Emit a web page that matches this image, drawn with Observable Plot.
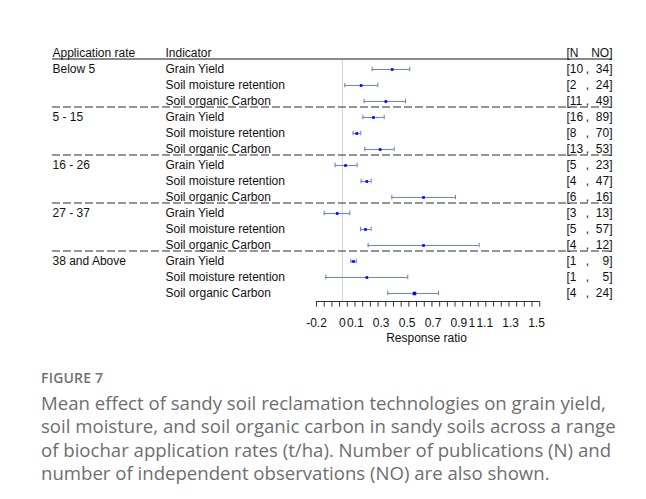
<!DOCTYPE html>
<html><head><meta charset="utf-8">
<script src="https://cdn.jsdelivr.net/npm/d3@7"></script>
<script src="https://cdn.jsdelivr.net/npm/@observablehq/plot@0.6"></script>
<style>
body{margin:0;background:#fff;width:646px;height:499px;overflow:hidden;position:relative}
#chart{position:absolute;left:0;top:0}
#fig{position:absolute;left:41px;top:368px;font:600 14px "Open Sans";color:#707070;letter-spacing:0.2px;white-space:nowrap}
#cap{position:absolute;left:41px;top:391px;font:400 18.6px/23.3px "Open Sans";color:#6e6e6e;white-space:nowrap}
</style></head><body>
<div id="chart"></div>
<div id="fig">FIGURE 7</div>
<div id="cap">Mean effect of sandy soil reclamation technologies on grain yield,<br>soil moisture, and soil organic carbon in sandy soils across a range<br>of biochar application rates (t/ha). Number of publications (N) and<br>number of independent observations (NO) are also shown.</div>
<script>
const rates = ["Below 5", "5 - 15", "16 - 26", "27 - 37", "38 and Above"];
const indicators = ["Grain Yield", "Soil moisture retention", "Soil organic Carbon"];
const mean  = [0.385, 0.145, 0.336, 0.24, 0.111, 0.292, 0.024, 0.189, 0.627, -0.04, 0.179, 0.627, 0.086, 0.189, 0.557];
const lower = [0.23, 0.019, 0.168, 0.158, 0.083, 0.173, -0.056, 0.145, 0.382, -0.141, 0.14, 0.199, 0.065, -0.128, 0.351];
const upper = [0.52, 0.274, 0.488, 0.323, 0.142, 0.40, 0.114, 0.222, 0.874, 0.057, 0.222, 1.057, 0.107, 0.505, 0.743];
const nPub  = [10, 2, 11, 16, 8, 13, 5, 4, 6, 3, 5, 4, 1, 1, 4];
const nObs  = [34, 24, 49, 89, 70, 53, 23, 47, 16, 13, 57, 12, 9, 5, 24];
const xTickLabels = [-0.2, 0, 0.1, 0.3, 0.5, 0.7, 0.9, 1, 1.1, 1.3, 1.5];
const headers = {rate: "Application rate", indicator: "Indicator", n: "[N", no: "NO]"};
const axisTitle = "Response ratio";

const rows = [];
rates.forEach((r, i) => indicators.forEach((ind, j) => {
  const k = i * 3 + j;
  rows.push({row: k, rate: j === 0 ? r : "", indicator: ind, mean: mean[k], lower: lower[k], upper: upper[k], n: nPub[k], no: nObs[k]});
}));
const groupEnds = rows.filter(d => d.row % 3 === 2 && d.row < 14);
const xMin = -0.2, xMax = 1.525, nTicks = 30;
const minorTicks = d3.range(nTicks).map(i => xMin + i * (xMax - xMin) / (nTicks - 1));

const L = 316, R = 536, W = 646;
const font = "Liberation Sans, Arial, sans-serif";
const txt = {fontSize: 12, fill: "#111", fontFamily: font};
const ciColor = "#6585ea";

const chart = Plot.plot({
  width: W, height: 350,
  marginLeft: L, marginRight: W - R, marginTop: 0, marginBottom: 0,
  x: {domain: [-0.2, 1.5], range: [L, R], axis: null},
  y: {type: "linear", domain: [-1, 14], range: [53, 293], axis: null},
  style: {fontFamily: font, fontSize: "12px", background: "white"},
  marks: [
    Plot.ruleX([0], {x: d => d, y1: -0.65, y2: 14.5, stroke: "#d2d2d2", strokeWidth: 1}),
    Plot.ruleY([-1], {y: d => d, dy: 5.5, stroke: "#8a8a8a", strokeWidth: 2, insetLeft: 52 - L, insetRight: R - 612}),
    Plot.ruleY(groupEnds, {y: "row", dy: 5.5, stroke: "#2a2a2a", strokeWidth: 1, strokeDasharray: "8,3", insetLeft: 52 - L, insetRight: R - 612}),
    Plot.ruleY(rows, {y: "row", x1: "lower", x2: "upper", stroke: ciColor, strokeWidth: 1.1}),
    Plot.ruleX(rows, {x: "lower", y1: d => d.row - 0.14, y2: d => d.row + 0.14, stroke: ciColor, strokeWidth: 1.1}),
    Plot.ruleX(rows, {x: "upper", y1: d => d.row - 0.14, y2: d => d.row + 0.14, stroke: ciColor, strokeWidth: 1.1}),
    Plot.dot(rows.filter(d => d.row !== 14), {x: "mean", y: "row", symbol: "square", r: 1.5, fill: "#0000ff", stroke: "none"}),
    Plot.dot(rows.filter(d => d.row === 14), {x: "mean", y: "row", symbol: "square", r: 2.0, fill: "#0000ff", stroke: "none"}),
    Plot.text(rows, {y: "row", text: "rate", frameAnchor: "left", textAnchor: "start", dx: 52 - L, ...txt}),
    Plot.text(rows, {y: "row", text: "indicator", frameAnchor: "left", textAnchor: "start", dx: 165 - L, ...txt}),
    Plot.text(rows, {y: "row", text: d => "[" + d.n, frameAnchor: "right", textAnchor: "start", dx: 566 - R, ...txt}),
    Plot.text(rows, {y: "row", text: d => ",", frameAnchor: "right", textAnchor: "middle", dx: 587 - R, ...txt}),
    Plot.text(rows, {y: "row", text: d => d.no + "]", frameAnchor: "right", textAnchor: "end", dx: 612 - R, ...txt}),
    Plot.text([headers], {y: () => -1, text: "rate", frameAnchor: "left", textAnchor: "start", dx: 52 - L, ...txt}),
    Plot.text([headers], {y: () => -1, text: "indicator", frameAnchor: "left", textAnchor: "start", dx: 165 - L, ...txt}),
    Plot.text([headers], {y: () => -1, text: "n", frameAnchor: "right", textAnchor: "start", dx: 566 - R, ...txt}),
    Plot.text([headers], {y: () => -1, text: "no", frameAnchor: "right", textAnchor: "end", dx: 612 - R, ...txt}),
    Plot.ruleY([14.5], {y: d => d, x1: xMin, x2: xMax, stroke: "#333", strokeWidth: 1}),
    Plot.ruleX(minorTicks, {x: d => d, y1: 14.5, y2: 14.85, stroke: "#333", strokeWidth: 1}),
    Plot.text(xTickLabels, {x: d => d, y: () => 14.5, dy: 22, text: d => String(d), ...txt}),
    Plot.text([axisTitle], {y: () => 14.5, dy: 37, text: d => d, frameAnchor: "middle", ...txt})
  ]
});
document.getElementById("chart").appendChild(chart);
</script>
</body></html>
